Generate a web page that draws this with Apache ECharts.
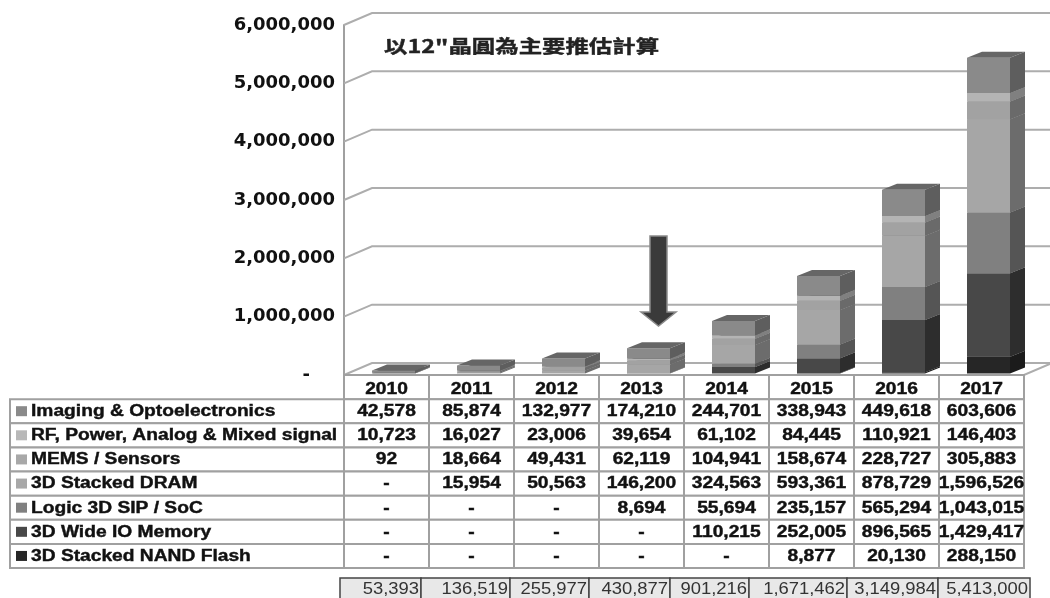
<!DOCTYPE html>
<html>
<head>
<meta charset="utf-8">
<style>html,body{margin:0;padding:0;background:#fff;overflow:hidden}#main{width:1050px;height:598px;filter:blur(0.5px)}</style>
<script src="https://cdn.jsdelivr.net/npm/echarts@6/dist/echarts.min.js"></script>
</head>
<body>
<div id="main"></div>
<script>
// 数据
const years = ['2010', '2011', '2012', '2013', '2014', '2015', '2016', '2017'];
const yTicks = [0, 1000000, 2000000, 3000000, 4000000, 5000000, 6000000];
const rowNames = ['Imaging & Optoelectronics', 'RF, Power, Analog & Mixed signal', 'MEMS / Sensors', '3D Stacked DRAM', 'Logic 3D SIP / SoC', '3D Wide IO Memory', '3D Stacked NAND Flash'];
const imaging = [42578, 85874, 132977, 174210, 244701, 338943, 449618, 603606];
const rfPower = [10723, 16027, 23006, 39654, 61102, 84445, 110921, 146403];
const mems = [92, 18664, 49431, 62119, 104941, 158674, 228727, 305883];
const dram = [null, 15954, 50563, 146200, 324563, 593361, 878729, 1596526];
const logic = [null, null, null, 8694, 55694, 235157, 565294, 1043015];
const wideIo = [null, null, null, null, 110215, 252005, 896565, 1429417];
const nand = [null, null, null, null, null, 8877, 20130, 288150];
const totals = [53393, 136519, 255977, 430877, 901216, 1671462, 3149984, 5413000];
const note = '以12"晶圓為主要推估計算';

// 样式
const rows = [imaging, rfPower, mems, dram, logic, wideIo, nand];
const faceColors = ['#8a8a8a', '#b4b4b4', '#a2a2a2', '#a6a6a6', '#808080', '#484848', '#262626'];
const sideColors = ['#5e5e5e', '#808080', '#6a6a6a', '#6c6c6c', '#555555', '#2d2d2d', '#1b1b1b'];
const swatchColors = ['#8a8a8a', '#b8b8b8', '#a8a8a8', '#a8a8a8', '#808080', '#484848', '#262626'];
const topColor = '#666666';
const wallColor = '#adadad';
const cellColor = '#a0a0a0';
const textColor = '#111111';
const wallDx = 28, wallDy = -12; // 背景墙偏移
const barDx = 15, barDy = -6; // 柱子厚度
const barWidth = 43, barShift = 7, barLift = 1.5;
const tableLeft = 10;
const totalEdges = [340, 421, 510, 589, 670, 749, 847, 938, 1030];
const tableFont = 'bold 16px "Liberation Sans"';

const fmt = v => v === null ? '-' : v.toLocaleString('en-US');

// 一层柱子: 正面 + 侧面 + 顶面
function renderLayer(params, api) {
  const c = api.value(0);
  if (api.value(2) === api.value(1)) return;
  const p0 = api.coord([c, api.value(1)]);
  const p1 = api.coord([c, api.value(2)]);
  const x = p0[0] - barWidth / 2 + barShift;
  const yb = p0[1] - barLift, yt = p1[1] - barLift;
  const k = params.seriesIndex - 1;
  const layer = 6 - k;
  return {
    type: 'group',
    children: [
      { type: 'rect', shape: { x: x, y: yt, width: barWidth, height: yb - yt }, style: { fill: faceColors[layer] } },
      { type: 'polygon', shape: { points: [[x + barWidth, yt], [x + barWidth + barDx, yt + barDy], [x + barWidth + barDx, yb + barDy], [x + barWidth, yb]] }, style: { fill: sideColors[layer] } },
      { type: 'polygon', shape: { points: [[x, yt], [x + barDx, yt + barDy], [x + barWidth + barDx, yt + barDy], [x + barWidth, yt]] }, style: { fill: topColor } }
    ]
  };
}

// 网格线: 前沿 -> 后墙 -> 右端
function renderWall(params, api) {
  const cs = params.coordSys;
  const y = api.coord([0, api.value(1)])[1];
  const x0 = cs.x, x1 = cs.x + cs.width;
  const lines = [[[x0, y], [x0 + wallDx, y + wallDy], [x1 + wallDx, y + wallDy]]];
  if (api.value(1) === 0) lines.push([[x0, y], [x1, y], [x1 + wallDx, y + wallDy]]);
  return {
    type: 'group',
    children: lines.map(pts => ({ type: 'polyline', shape: { points: pts }, style: { stroke: wallColor, lineWidth: 2, fill: 'none' } }))
  };
}

// 表格单元格
const tableCells = [];
years.forEach((y, i) => tableCells.push({ col: i, row: 0, text: y }));
tableCells.push({ col: -1, row: 0, text: '' });
rows.forEach((vals, r) => {
  tableCells.push({ col: -1, row: r + 1, text: rowNames[r], swatch: swatchColors[r] });
  vals.forEach((v, i) => tableCells.push({ col: i, row: r + 1, text: fmt(v) }));
});

function cellText(text, x, y, align) {
  return { type: 'text', x: x, y: y, scaleX: 1.2, style: { text: text, font: tableFont, fill: textColor, stroke: textColor, lineWidth: 0.4, align: align, verticalAlign: 'middle' } };
}

function renderCell(params, api) {
  const cell = tableCells[params.dataIndex];
  const size = api.size([1, 1]);
  const first = api.coord([0, cell.row]);
  const p = api.coord([Math.max(cell.col, 0), cell.row]);
  const top = p[1] - size[1] / 2;
  if (cell.col < 0) {
    const right = first[0] - size[0] / 2;
    if (cell.row === 0) return;
    return {
      type: 'group',
      children: [
        { type: 'rect', shape: { x: tableLeft, y: top, width: right - tableLeft, height: size[1] }, style: { fill: '#fff', stroke: cellColor, lineWidth: 2 } },
        { type: 'rect', shape: { x: 16, y: p[1] - 5, width: 11, height: 10 }, style: { fill: cell.swatch } },
        cellText(cell.text, 31, p[1] + 0.5, 'left')
      ]
    };
  }
  return {
    type: 'group',
    children: [
      { type: 'rect', shape: { x: p[0] - size[0] / 2, y: top, width: size[0], height: size[1] }, style: { fill: '#fff', stroke: cellColor, lineWidth: 2 } },
      cellText(cell.text, p[0], p[1] + (cell.row === 0 ? 2.5 : 0.5), 'center')
    ]
  };
}

// 堆叠
const stacked = years.map(() => 0);
const layerSeries = [];
for (let r = rows.length - 1; r >= 0; r--) {
  const data = rows[r].map((v, i) => {
    const base = stacked[i];
    stacked[i] += v || 0;
    return [i, base, stacked[i]];
  });
  layerSeries.push({ name: rowNames[r], type: 'custom', xAxisIndex: 0, yAxisIndex: 0, renderItem: renderLayer, data: data, clip: false, silent: true, z: 3 });
}

// 合计行
const totalsGraphic = [];
totals.forEach((v, i) => {
  totalsGraphic.push({ type: 'rect', shape: { x: totalEdges[i], y: 578, width: totalEdges[i + 1] - totalEdges[i], height: 24 }, style: { fill: '#e8e8e8', stroke: '#444', lineWidth: 1.5 } });
  totalsGraphic.push({ type: 'text', x: totalEdges[i + 1] - 2, y: 590, scaleX: 1.15, style: { text: fmt(v), font: '16px "Liberation Sans"', fill: '#333', align: 'right', verticalAlign: 'middle' } });
});

const chart = echarts.init(document.getElementById('main'), null, { renderer: 'canvas' });
chart.setOption({
  animation: false,
  backgroundColor: '#fff',
  grid: [
    { left: 344, top: 25, width: 680, height: 350 },
    { left: 344, top: 375, width: 680, height: 193 }
  ],
  xAxis: [
    { gridIndex: 0, type: 'category', data: years, axisLine: { show: false }, axisTick: { show: false }, axisLabel: { show: false } },
    { gridIndex: 1, type: 'category', data: years, show: false }
  ],
  yAxis: [
    {
      gridIndex: 0, type: 'value', min: 0, max: 6000000, interval: 1000000,
      axisLine: { show: true, lineStyle: { color: '#a0a0a0', width: 2 } },
      axisTick: { show: false }, splitLine: { show: false },
      axisLabel: {
        margin: 9, color: textColor, fontFamily: 'DejaVu Sans', fontWeight: 'bold', fontSize: 18, padding: [4, 0, 0, 0],
        formatter: v => v === 0 ? '-\u00a0\u00a0\u00a0\u00a0' : fmt(v)
      }
    },
    { gridIndex: 1, type: 'category', inverse: true, data: ['year'].concat(rowNames), show: false }
  ],
  series: [
    { name: 'wall', type: 'custom', xAxisIndex: 0, yAxisIndex: 0, renderItem: renderWall, data: yTicks.map(t => [0, t]), clip: false, silent: true, z: 1 }
  ].concat(layerSeries).concat([
    { name: 'table', type: 'custom', xAxisIndex: 1, yAxisIndex: 1, renderItem: renderCell, data: tableCells.map(c => [Math.max(c.col, 0), c.row]), clip: false, silent: true, z: 4 }
  ]),
  graphic: [
    { type: 'text', x: 384, y: 46, scaleX: 1.3, z: 10, style: { text: note, font: 'bold 18px "Noto Sans CJK TC"', fill: '#222', stroke: '#222', lineWidth: 0.4, align: 'left', verticalAlign: 'middle' } },
    // 2013 箭头
    { type: 'polygon', z: 10, shape: { points: [[650, 236], [667, 236], [667, 312], [676, 312], [658.5, 326], [641, 312], [650, 312]] }, style: { fill: '#3a3a3a', stroke: '#8a8a8a', lineWidth: 1.5 } }
  ].concat(totalsGraphic)
});
</script>
</body>
</html>
